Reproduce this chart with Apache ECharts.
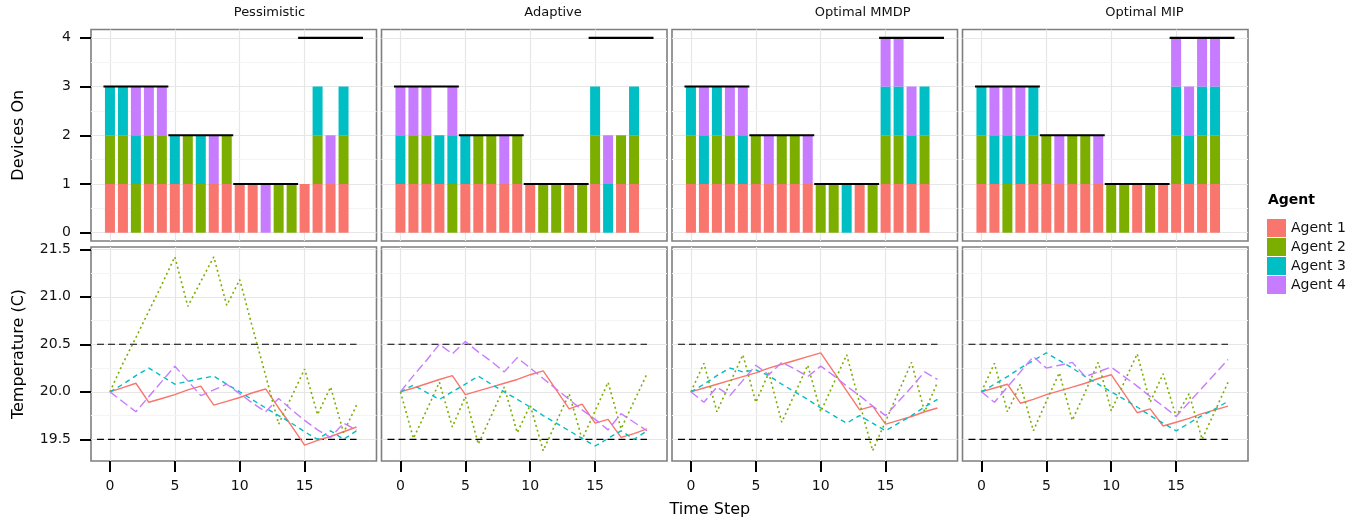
<!DOCTYPE html>
<html>
<head>
<meta charset="utf-8">
<title>Devices on and temperature per agent</title>
<script src="https://cdn.jsdelivr.net/npm/echarts@6/dist/echarts.min.js"></script>
<style>
  html, body { margin: 0; padding: 0; background: #fff; }
  #chart { width: 1369px; height: 522px; }
</style>
</head>
<body>
<div id="chart"></div>
<script>
// ---- data ----
var panels = ['Pessimistic', 'Adaptive', 'Optimal MMDP', 'Optimal MIP'];
var agents = ['Agent 1', 'Agent 2', 'Agent 3', 'Agent 4'];
var agentColors = ['#F8766D', '#7CAE00', '#00BFC4', '#C77CFF'];
var timeSteps = [0, 1, 2, 3, 4, 5, 6, 7, 8, 9, 10, 11, 12, 13, 14, 15, 16, 17, 18, 19];
var xTicks = [0, 5, 10, 15];
var deviceTicks = [0, 1, 2, 3, 4];
var tempTicks = [19.5, 20.0, 20.5, 21.0, 21.5];
var deviceMinor = [0.5, 1.5, 2.5, 3.5];
var tempMinor = [19.75, 20.25, 20.75, 21.25];

// device limit: one level per block of 5 steps
var capStarts = [0, 5, 10, 15];
var capLevels = [3, 2, 1, 4];
// comfort band
var comfortBounds = [19.5, 20.5];

// on (1) / off (0) per agent, per time step
var onPessimistic = [
    [1, 1, 0, 1, 1, 1, 1, 0, 1, 1, 1, 1, 0, 0, 0, 1, 1, 1, 1, 0],
    [1, 1, 1, 1, 1, 0, 1, 1, 0, 1, 0, 0, 0, 1, 1, 0, 1, 0, 1, 0],
    [1, 1, 1, 0, 0, 1, 0, 1, 0, 0, 0, 0, 0, 0, 0, 0, 1, 0, 1, 0],
    [0, 0, 1, 1, 1, 0, 0, 0, 1, 0, 0, 0, 1, 0, 0, 0, 0, 1, 0, 0]
];
var onAdaptive = [
    [1, 1, 1, 1, 0, 1, 1, 1, 1, 1, 1, 0, 0, 1, 0, 1, 0, 1, 1, 0],
    [0, 1, 1, 0, 1, 0, 1, 1, 0, 1, 0, 1, 1, 0, 1, 1, 0, 1, 1, 0],
    [1, 0, 0, 1, 1, 1, 0, 0, 0, 0, 0, 0, 0, 0, 0, 1, 1, 0, 1, 0],
    [1, 1, 1, 0, 1, 0, 0, 0, 1, 0, 0, 0, 0, 0, 0, 0, 1, 0, 0, 0]
];
var onMMDP = [
    [1, 1, 1, 1, 1, 1, 1, 1, 1, 1, 0, 0, 0, 1, 0, 1, 1, 1, 1, 0],
    [1, 0, 1, 1, 0, 1, 0, 1, 1, 0, 1, 1, 0, 0, 1, 1, 1, 0, 1, 0],
    [1, 1, 1, 0, 1, 0, 0, 0, 0, 0, 0, 0, 1, 0, 0, 1, 1, 1, 1, 0],
    [0, 1, 0, 1, 1, 0, 1, 0, 0, 1, 0, 0, 0, 0, 0, 1, 1, 1, 0, 0]
];
var onMIP = [
    [1, 1, 0, 1, 1, 1, 1, 1, 1, 1, 0, 0, 1, 0, 1, 1, 1, 1, 1, 0],
    [1, 0, 1, 0, 1, 1, 0, 1, 1, 0, 1, 1, 0, 1, 0, 1, 0, 1, 1, 0],
    [1, 1, 1, 1, 1, 0, 0, 0, 0, 0, 0, 0, 0, 0, 0, 1, 1, 1, 1, 0],
    [0, 1, 1, 1, 0, 0, 1, 0, 0, 1, 0, 0, 0, 0, 0, 1, 1, 1, 1, 0]
];

// temperature per agent, per time step
var tempPessimistic = [
    [20.00, 20.045, 20.09, 19.89, 19.93, 19.97, 20.02, 20.06, 19.86, 19.90, 19.94, 19.99, 20.03, 19.83, 19.64, 19.44, 19.49, 19.53, 19.58, 19.63],
    [20.00, 20.30, 20.57, 20.85, 21.13, 21.42, 20.90, 21.16, 21.42, 20.91, 21.18, 20.67, 20.17, 19.66, 19.95, 20.24, 19.76, 20.05, 19.57, 19.86],
    [20.00, 20.08, 20.17, 20.25, 20.165, 20.08, 20.11, 20.14, 20.165, 20.08, 20.00, 19.915, 19.83, 19.75, 19.67, 19.58, 19.50, 19.59, 19.50, 19.59],
    [20.00, 19.895, 19.79, 19.95, 20.11, 20.27, 20.115, 19.96, 20.02, 20.08, 19.98, 19.88, 19.79, 19.93, 19.81, 19.70, 19.60, 19.52, 19.67, 19.60]
];
var tempAdaptive = [
    [20.00, 20.04, 20.085, 20.13, 20.17, 19.97, 20.01, 20.05, 20.09, 20.13, 20.18, 20.22, 20.02, 19.82, 19.87, 19.67, 19.71, 19.52, 19.56, 19.61],
    [20.00, 19.51, 19.80, 20.10, 19.63, 19.95, 19.45, 19.75, 20.05, 19.57, 19.86, 19.38, 19.68, 19.98, 19.50, 19.80, 20.10, 19.61, 19.90, 20.19],
    [20.00, 20.07, 19.995, 19.92, 20.00, 20.08, 20.165, 20.08, 20.00, 19.92, 19.84, 19.75, 19.67, 19.59, 19.51, 19.43, 19.51, 19.59, 19.50, 19.59],
    [20.00, 20.17, 20.33, 20.50, 20.40, 20.53, 20.42, 20.32, 20.21, 20.36, 20.25, 20.14, 20.03, 19.92, 19.81, 19.71, 19.60, 19.77, 19.68, 19.59]
];
var tempMMDP = [
    [20.00, 20.04, 20.08, 20.12, 20.16, 20.20, 20.25, 20.29, 20.33, 20.37, 20.41, 20.21, 20.01, 19.81, 19.85, 19.66, 19.70, 19.74, 19.79, 19.83],
    [20.00, 20.30, 19.79, 20.09, 20.39, 19.89, 20.20, 19.68, 19.98, 20.28, 19.79, 20.09, 20.39, 19.88, 19.38, 19.69, 20.00, 20.31, 19.79, 20.10],
    [20.00, 20.08, 20.17, 20.25, 20.21, 20.23, 20.17, 20.08, 20.00, 19.92, 19.83, 19.75, 19.67, 19.75, 19.67, 19.59, 19.67, 19.75, 19.84, 19.92],
    [20.00, 19.89, 20.05, 19.96, 20.12, 20.28, 20.18, 20.31, 20.24, 20.16, 20.27, 20.17, 20.06, 19.96, 19.85, 19.75, 19.90, 20.05, 20.21, 20.13]
];
var tempMIP = [
    [20.00, 20.04, 20.08, 19.88, 19.92, 19.97, 20.01, 20.05, 20.09, 20.14, 20.18, 19.98, 19.78, 19.82, 19.64, 19.68, 19.72, 19.77, 19.81, 19.85],
    [20.00, 20.30, 19.79, 20.08, 19.59, 19.90, 20.20, 19.70, 20.00, 20.31, 19.80, 20.10, 20.40, 19.89, 20.19, 19.74, 19.98, 19.50, 19.80, 20.10],
    [20.00, 20.08, 20.16, 20.25, 20.33, 20.41, 20.33, 20.25, 20.16, 20.08, 20.00, 19.92, 19.84, 19.75, 19.67, 19.59, 19.67, 19.75, 19.82, 19.90],
    [20.00, 19.89, 20.05, 20.21, 20.37, 20.25, 20.28, 20.31, 20.16, 20.21, 20.26, 20.16, 20.06, 19.95, 19.85, 19.74, 19.89, 20.04, 20.19, 20.34]
];

var onData = [onPessimistic, onAdaptive, onMMDP, onMIP];
var tempData = [tempPessimistic, tempAdaptive, tempMMDP, tempMIP];
var agentDash = ['solid', [2, 3], [5, 4], [9, 4]];

// ---- layout ----
var FONT = 'DejaVu Sans';
var colLeft = [91, 381.5, 672, 962.5];
var colWidth = 285.5;
var rowTop = [29.5, 247];
var rowHeight = [211.5, 214];

var grids = [], xAxes = [], yAxes = [], series = [], graphics = [];

for (var r = 0; r < 2; r++) {
    for (var c = 0; c < 4; c++) {
        var k = r * 4 + c;
        var bottomRow = r === 1;
        var firstCol = c === 0;
        grids.push({
            left: colLeft[c], top: rowTop[r], width: colWidth, height: rowHeight[r],
            show: true, backgroundColor: '#fff', borderColor: '#7f7f7f', borderWidth: 1.6
        });
        xAxes.push({
            type: 'value', gridIndex: k, min: -1.46, max: 20.54,
            axisLine: { show: false, onZero: false },
            axisTick: { show: bottomRow, customValues: xTicks, length: 11, lineStyle: { color: '#000', width: 2 } },
            axisLabel: { show: bottomRow, customValues: xTicks, margin: 18, fontFamily: FONT, fontSize: 14, color: '#111' },
            splitLine: { show: true, lineStyle: { color: '#e6e6e6', width: 1.2 } }
        });
        yAxes.push({
            type: 'value', gridIndex: k,
            min: bottomRow ? 19.272 : -0.17,
            max: bottomRow ? 21.524 : 4.17,
            name: firstCol ? (bottomRow ? 'Temperature (C)' : 'Devices On') : '',
            nameLocation: 'middle', nameGap: 64,
            nameTextStyle: { fontFamily: FONT, fontSize: 16, color: '#000' },
            axisLine: { show: false, onZero: false },
            axisTick: { show: firstCol, customValues: bottomRow ? tempTicks : deviceTicks, length: 11, lineStyle: { color: '#000', width: 2 } },
            axisLabel: {
                show: firstCol, customValues: bottomRow ? tempTicks : deviceTicks, margin: 20,
                fontFamily: FONT, fontSize: 14, color: '#111',
                formatter: bottomRow ? function (v) { return v.toFixed(1); } : null
            },
            splitLine: { show: true, lineStyle: { color: '#e6e6e6', width: 1.2 } }
        });
        // minor grid lines, kept under the marks
        series.push({
            type: 'line', xAxisIndex: k, yAxisIndex: k, data: [], z: 1, silent: true,
            markLine: {
                silent: true, symbol: 'none', animation: false, z: 1,
                label: { show: false },
                lineStyle: { color: '#f4f4f4', width: 1, type: 'solid' },
                data: (bottomRow ? tempMinor : deviceMinor).map(function (v) { return { yAxis: v }; })
            }
        });
    }
}

panels.forEach(function (p, c) {
    // strip label
    graphics.push({
        type: 'text', left: colLeft[c] + colWidth / 2, top: 6,
        style: { text: p, fontFamily: FONT, fontSize: 13, fill: '#111', textAlign: 'center' }
    });

    // stacked on/off bars; value first so the stack runs along y
    agents.forEach(function (a, i) {
        series.push({
            type: 'bar', name: a, xAxisIndex: c, yAxisIndex: c,
            stack: 'on' + c, barWidth: 10, silent: true, z: 3,
            encode: { x: 1, y: 0 },
            itemStyle: { color: agentColors[i] },
            data: timeSteps.map(function (t, j) { return [onData[c][i][j], t]; })
        });
    });

    capStarts.forEach(function (s, j) {
        series.push({
            type: 'line', xAxisIndex: c, yAxisIndex: c, symbol: 'none', silent: true, z: 5,
            lineStyle: { color: '#000', width: 2.2 },
            data: [[s - 0.5, capLevels[j]], [s + 4.5, capLevels[j]]]
        });
    });

    comfortBounds.forEach(function (b) {
        series.push({
            type: 'line', xAxisIndex: 4 + c, yAxisIndex: 4 + c, symbol: 'none', silent: true, z: 2,
            lineStyle: { color: '#000', width: 1.1, type: [7, 4] },
            data: [[-1, b], [19, b]]
        });
    });

    agents.forEach(function (a, i) {
        series.push({
            type: 'line', name: a, xAxisIndex: 4 + c, yAxisIndex: 4 + c,
            symbol: 'none', silent: true, z: 3,
            itemStyle: { color: agentColors[i] },
            lineStyle: { color: agentColors[i], width: i === 1 ? 1.6 : 1.4, type: agentDash[i] },
            data: timeSteps.map(function (t, j) { return [t, tempData[c][i][j]]; })
        });
    });
});

graphics.push({
    type: 'text', left: 669.5, top: 502,
    style: { text: 'Time Step', fontFamily: FONT, fontSize: 16, fill: '#000', textAlign: 'center' }
});
graphics.push({
    type: 'text', left: 1268, top: 193,
    style: { text: 'Agent', fontFamily: FONT, fontSize: 14, fontWeight: 'bold', fill: '#000' }
});

var chart = echarts.init(document.getElementById('chart'), null, { renderer: 'canvas' });
chart.setOption({
    animation: false,
    backgroundColor: '#fff',
    textStyle: { fontFamily: FONT },
    legend: {
        data: agents, orient: 'vertical', left: 1267, top: 219,
        icon: 'rect', itemWidth: 19, itemHeight: 18, itemGap: 1, padding: 0,
        selectedMode: false,
        textStyle: { fontFamily: FONT, fontSize: 14, color: '#111' }
    },
    grid: grids,
    xAxis: xAxes,
    yAxis: yAxes,
    series: series,
    graphic: graphics
});

window.addEventListener('resize', chart.resize);
</script>
</body>
</html>
